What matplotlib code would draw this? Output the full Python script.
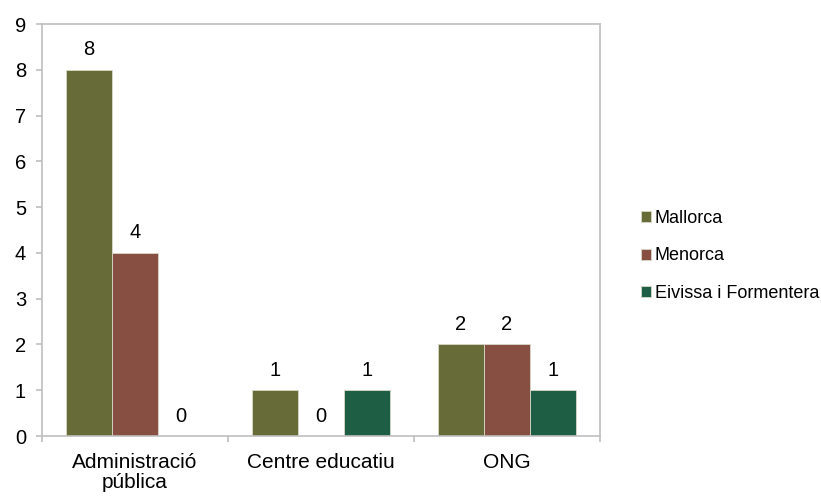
import matplotlib
matplotlib.use("Agg")
import matplotlib.pyplot as plt
import numpy as np

categories = ["Administració\npública", "Centre educatiu", "ONG"]
series_names = ["Mallorca", "Menorca", "Eivissa i Formentera"]
mallorca = [8, 1, 2]
menorca = [4, 0, 2]
eivissa = [0, 1, 1]
yticks = list(range(0, 10))

colors = ["#666B38", "#874F41", "#1E5E45"]

plt.rcParams['font.family'] = ['Liberation Sans', 'DejaVu Sans']

fig = plt.figure(figsize=(8.21, 4.96), dpi=100)
ax = fig.add_axes([42/821, 1-436/496, (600-42)/821, (436-24)/496])

x = np.arange(len(categories))
w = 0.247
data = [mallorca, menorca, eivissa]
for i, (vals, name, c) in enumerate(zip(data, series_names, colors)):
    pos = x + (i - 1) * w
    ax.bar(pos, vals, width=w, color=c, edgecolor="#D9D9C8", linewidth=0.6, label=name)
    for p, v in zip(pos, vals):
        ax.annotate(str(v), (p, v), xytext=(0, 7.5), textcoords="offset points",
                    ha="center", va="bottom", fontsize=14.5, color="black")

ax.set_xlim(-0.5, len(categories) - 0.5)
ax.set_ylim(0, 9)
ax.set_yticks(yticks)
ax.set_xticks(x)
ax.set_xticklabels(categories, fontsize=15, linespacing=1.12)
ax.set_xticks(np.arange(-0.5, len(categories)), minor=True)
ax.tick_params(axis='x', which='major', length=0, pad=12)
ax.tick_params(axis='x', which='minor', length=4.5, color="#BFBFBF", width=1.2)
ax.tick_params(axis='y', length=4.5, color="#BFBFBF", width=1.2, labelsize=14.5, pad=7)
for s in ax.spines.values():
    s.set_color("#BFBFBF")
    s.set_linewidth(1.2)

leg = ax.legend(loc="center left", bbox_to_anchor=(634/821, 1-256/496), bbox_transform=fig.transFigure,
                frameon=False, fontsize=13, handlelength=0.55, handleheight=0.55,
                handletextpad=0.2, labelspacing=1.15, borderaxespad=0)

fig.savefig("out.png", dpi=100)
